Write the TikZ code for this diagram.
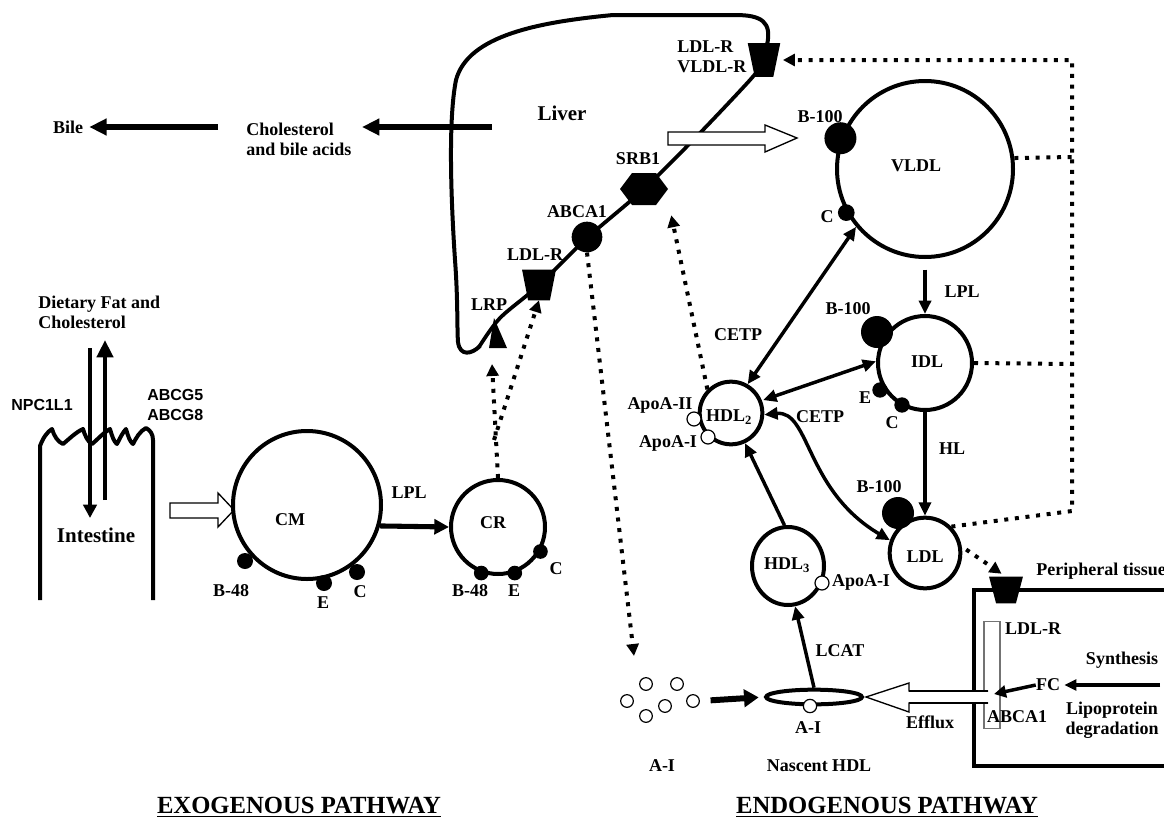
\documentclass[tikz,border=0pt]{standalone}
\usepackage{fontspec}
\setmainfont{Liberation Serif}
\newfontfamily\sansb{Liberation Sans}
\usetikzlibrary{arrows.meta,shapes.geometric,calc}
\begin{document}
\begin{tikzpicture}[x=0.75pt,y=-0.75pt,
  lbl/.style={font=\fontsize{13.5}{15}\selectfont\bfseries, inner sep=0pt},
  big/.style={font=\fontsize{15.75}{17}\selectfont\bfseries, inner sep=0pt},
  slbl/.style={font=\sansb\fontsize{12}{14.5}\selectfont\bfseries, inner sep=0pt},
  ttl/.style={font=\fontsize{18.5}{20}\selectfont\bfseries, inner sep=0pt},
  lipo/.style={draw, circle, line width=3pt, inner sep=0pt},
  blob/.style={fill, circle, inner sep=0pt, minimum size=12pt},
  bigblob/.style={fill, circle, inner sep=0pt, minimum size=24pt},
  apo/.style={draw, fill=white, circle, line width=0.9pt, inner sep=0pt, minimum size=10.5pt},
  hole/.style={inner sep=0pt},
  arr/.style={line width=2.6pt, -{Triangle[length=10pt,width=9pt]}},
  dbl/.style={line width=2.6pt, {Triangle[length=10pt,width=9pt]}-{Triangle[length=10pt,width=9pt]}},
  fat/.style={line width=4pt, -{Triangle[length=12pt,width=12pt]}},
  dots/.style={line width=3pt, dash pattern=on 3pt off 5pt},
  dotarr/.style={dots, -{Triangle[length=9pt,width=9pt]}},
  openarr/.style={draw, fill=white, line width=1pt, line join=miter}]
\useasboundingbox (0,0) rectangle (1164,832);

% ---------- Liver outline and membrane ----------
\draw[line width=3pt, line join=round] (767,45) .. controls (772,22) and (762,15) .. (735,15) -- (613,15)
  .. controls (540,22) and (468,35) .. (456,80) .. controls (448,120) and (451,200) .. (455,260)
  .. controls (458,300) and (457,330) .. (458,342) .. controls (460,357) and (472,354) .. (480,346);
\draw[line width=2.8pt] plot[smooth, tension=0.5] coordinates {(479,347) (500,318) (538,286) (587,238) (644,189) (700,133) (750,80) (764,62)};

% receptors on the liver
\node[hole, minimum width=24pt, minimum height=25pt] (rtop) at (764,60) {};
\fill (rtop.north west) -- (rtop.north east) -- ($(rtop.south east)+(-7,0)$) -- ($(rtop.south west)+(7,0)$) -- cycle;
\node[hole, minimum width=25pt, minimum height=22.5pt] (rldl) at (539,285) {};
\fill (rldl.north west) -- (rldl.north east) -- ($(rldl.south east)+(-6,0)$) -- ($(rldl.south west)+(6,0)$) -- cycle;
\node[hole, minimum width=36pt, minimum height=24pt] (srb) at (644,189) {};
\fill (620,189) -- (632,173) -- (656,173) -- (668,189) -- (656,205) -- (632,205) -- cycle;
\node[fill, circle, inner sep=0pt, minimum size=23pt] (abca) at (587,237) {};
\node[hole, minimum width=13pt, minimum height=22pt] (lrp) at (498,333) {};
\fill (494,318) -- (507,348) -- (489,348) -- cycle;

% liver labels
\node[big] (liver) at (562,113) {Liver};
\node[lbl, align=left, anchor=west] (rtoplbl) at (677,57) {LDL-R\\VLDL-R};
\node[lbl] (srblbl) at (638,159) {SRB1};
\node[lbl] (abcalbl) at (577,212) {ABCA1};
\node[lbl] (rldllbl) at (535,255) {LDL-R};
\node[lbl] (lrplbl) at (489,305) {LRP};

% bile
\node[lbl] (bile) at (68,127) {Bile};
\node[lbl, align=left, anchor=west] (chol) at (246,139) {Cholesterol\\and bile acids};
\coordinate (lvtick) at (492,127);
\coordinate (choltip) at (362,127);
\coordinate (cholstart) at (218,127);
\draw[fat, line width=3.8pt, -{Triangle[length=13pt,width=12pt]}] (lvtick) -- (choltip);
\draw[fat, line width=3.8pt, -{Triangle[length=13pt,width=12pt]}] (cholstart) -- ($(bile.east)+(6,0)$);

% open arrow liver -> VLDL
\draw[openarr] (668,132) -- (765,132) -- (765,125) -- (797,138) -- (765,152) -- (765,145) -- (668,145) -- cycle;

% ---------- Intestine ----------
\draw[line width=3pt, line join=round] (40,600) -- (40,446)
  .. controls (43,438) and (47,432) .. (52,429) .. controls (54,436) and (58,442) .. (63,444)
  .. controls (68,440) and (76,432) .. (83,429) .. controls (85,436) and (88,442) .. (92,444)
  .. controls (97,440) and (103,433) .. (110,429) .. controls (112,436) and (114,442) .. (117,444)
  .. controls (120,438) and (123,432) .. (126,429) .. controls (128,436) and (130,442) .. (133,444)
  .. controls (136,438) and (140,431) .. (146,428) .. controls (150,430) and (153,434) .. (153,440)
  -- (153,600);
\node[big] (intest) at (96,535) {Intestine};
\node[lbl, align=left, anchor=west] (diet) at (38,312) {Dietary Fat and\\Cholesterol};
\node[slbl] (npc) at (42,405) {NPC1L1};
\node[slbl, align=left, anchor=west] (abcg) at (147,405) {ABCG5\\ABCG8};
\coordinate (dn1) at (90,348); \coordinate (dn2) at (90,518);
\coordinate (up1) at (105,500); \coordinate (up2) at (105,340);
\draw[line width=3.2pt, -{Triangle[length=10pt,width=10pt]}] (dn1) -- (dn2);
\draw[line width=3.2pt, -{Triangle[length=13pt,width=12pt]}] (up1) -- (up2);
\draw[openarr] (170,503) -- (218,503) -- (218,493) -- (234,510) -- (218,527) -- (218,518) -- (170,518) -- cycle;

% ---------- CM and CR ----------
\node[lipo, minimum size=111pt] (cm) at (307,505) {};
\node[lbl] (cmlbl) at (290,520) {CM};
\node[blob] (cmb48) at (245,561) {};
\node[blob] (cme) at (324,583) {};
\node[blob] (cmc) at (357,572) {};
\node[lbl] (cmb48l) at (231,591) {B-48};
\node[lbl] (cmel) at (323,603) {E};
\node[lbl] (cmcl) at (360,592) {C};

\node[lipo, minimum size=70.5pt] (cr) at (498,527) {};
\node[lbl] (crlbl) at (493,523) {CR};
\node[blob, minimum size=11pt] (crb48) at (cr.250) {};
\node[blob, minimum size=11pt] (cre) at (cr.290) {};
\node[blob, minimum size=11pt] (crc) at (cr.330) {};
\node[lbl] (crb48l) at (470,591) {B-48};
\node[lbl] (crel) at (514,591) {E};
\node[lbl] (crcl) at (556,569) {C};

\node[lbl] (lpl1) at (409,493) {LPL};
\draw[fat, line width=3.8pt, -{Triangle[length=11pt,width=11pt]}] (cm.-16) -- (cr.west);

\coordinate (crsplit) at (494,440);
\draw[dotarr] (cr.north) -- (492,364);
\draw[dotarr] (crsplit) -- (rldl.south);

% ---------- VLDL / IDL / LDL ----------
\node[lipo, minimum size=132pt] (vldl) at (925,169) {};
\node[lbl] (vldllbl) at (916,166) {VLDL};
\node[bigblob] (vb100) at (vldl.160) {};
\node[blob, minimum size=12.5pt] (vc) at (vldl.209) {};
\node[lbl] (vb100l) at (820,117) {B-100};
\node[lbl] (vcl) at (827,217) {C};

\node[lipo, minimum size=70.5pt] (idl) at (925,363) {};
\node[lbl] (idllbl) at (927,362) {IDL};
\node[bigblob] (ib100) at (877,332) {};
\node[blob, minimum size=11.5pt] (ie) at (880,390) {};
\node[blob, minimum size=11.5pt] (ic) at (902,405) {};
\node[lbl] (ib100l) at (848,309) {B-100};
\node[lbl] (iel) at (865,398) {E};
\node[lbl] (icl) at (892,423) {C};

\node[lipo, minimum size=53pt] (ldl) at (925,553) {};
\node[lbl] (ldllbl) at (925,557) {LDL};
\node[bigblob] (lb100) at (898,513) {};
\node[lbl] (lb100l) at (879,487) {B-100};

\draw[arr, shorten <=8pt] (vldl.south) -- (idl.north);
\node[lbl] (lpl2) at (962,292) {LPL};
\draw[arr] (idl.south) -- (ldl.north);
\node[lbl] (hl) at (952,449) {HL};

% dotted return paths
\coordinate (dcb) at (1072,511);
\coordinate (dct) at (1072,60);
\coordinate (dcv) at (1072,157);
\coordinate (dci) at (1072,364);
\draw[dotarr, shorten >=2pt] (ldl.45) -- (dcb) -- (dct) -- (rtop.east);
\draw[dots] (vldl.7) -- (dcv);
\draw[dots] (idl.east) -- (dci);

% ---------- HDL ----------
\node[lipo, minimum size=47pt] (hdl2) at (731,413) {};
\node[lbl] (hdl2lbl) at (729,417) {HDL\textsubscript{2}};
\node[apo] (apo2) at (694,419) {};
\node[apo] (apo1) at (708,437) {};
\node[lbl] (apo2l) at (660,405) {ApoA-II};
\node[lbl] (apo1l) at (668,443) {ApoA-I};

\draw[dbl] (vldl.220) -- (hdl2.60);
\node[lbl] (cetp1) at (738,335) {CETP};
\draw[dbl, shorten <=1pt] (hdl2.22) -- (idl.178);
\draw[dbl] (hdl2.-3) .. controls (810,410) and (805,490) .. (ldl.160);
\node[lbl] (cetp2) at (820,417) {CETP};

\node[draw, ellipse, line width=3pt, inner sep=0pt, minimum width=54pt, minimum height=58.5pt] (hdl3) at (788,566) {};
\node[lbl] (hdl3lbl) at (787,565) {HDL\textsubscript{3}};
\node[apo] (apo3) at (822,583) {};
\node[lbl] (apo3l) at (861,582) {ApoA-I};
\draw[arr] (hdl3.95) -- (hdl2.-65);

\draw[dotarr] (hdl2.135) -- ($(srb.south east)+(3,10)$);
\coordinate (aitip) at (634,656);
\draw[dotarr] (abca.south) -- (aitip);

% nascent HDL
\node[draw, ellipse, line width=3pt, inner sep=0pt, minimum width=72pt, minimum height=11pt] (nasc) at (814,697) {};
\node[apo, minimum size=10pt] (nai) at (810,706) {};
\node[lbl] (nail) at (808,728) {A-I};
\node[lbl] (nascl) at (819,766) {Nascent HDL};
\draw[arr] (nasc.north) -- (hdl3.-80);
\node[lbl] (lcat) at (840,651) {LCAT};

% free apoA-I
\node[apo, minimum size=9.5pt] (ai1) at (627,701) {};
\node[apo, minimum size=9.5pt] (ai2) at (646,684) {};
\node[apo, minimum size=9.5pt] (ai3) at (677,684) {};
\node[apo, minimum size=9.5pt] (ai4) at (665,706) {};
\node[apo, minimum size=9.5pt] (ai5) at (693,701) {};
\node[apo, minimum size=9.5pt] (ai6) at (646,716) {};
\node[lbl] (ail) at (662,766) {A-I};
\draw[fat, line width=4.5pt, -{Triangle[length=11pt,width=13pt]}, shorten <=8pt, shorten >=4pt] (ai5.east) -- (nasc.west);

% ---------- Peripheral tissue ----------
\draw[line width=3pt] (1164,590) -- (974,590) -- (974,766) -- (1164,766);
\node[hole, minimum width=25pt, minimum height=19.5pt] (rper) at (1006,590) {};
\fill (rper.north west) -- (rper.north east) -- ($(rper.south east)+(-7,0)$) -- ($(rper.south west)+(7,0)$) -- cycle;
\node[lbl, anchor=west] (perl) at (1036,571) {Peripheral tissue};
\node[lbl] (rperl) at (1033,629) {LDL-R};
\draw[dotarr, shorten <=4pt, shorten >=4pt] (ldl.10) -- (rper.north);

\node[draw=black!55, fill=white, line width=0.9pt, inner sep=0pt, minimum width=12pt, minimum height=80pt] (abcr) at (992,675) {};
\draw[openarr] (988,691) -- (909,691) -- (909,683) -- (866,697) -- (909,712) -- (909,703) -- (988,703);
\draw[line width=2.2pt] (988,691) -- (909,691) (909,703) -- (988,703);
\node[lbl] (efflux) at (930,722) {Efflux};
\node[lbl] (abcrl) at (1017,717) {ABCA1};
\node[lbl] (fc) at (1048,685) {FC};
\coordinate (fctip) at (994,694);
\draw[line width=2.6pt, -{Triangle[length=9pt,width=9pt]}] (fc.west) -- (fctip);
\node[lbl] (syn) at (1122,660) {Synthesis};
\coordinate (synstart) at (1160,685);
\draw[line width=2.4pt, -{Triangle[length=9pt,width=8pt]}, shorten >=3pt] (synstart) -- (fc.east);
\node[lbl, align=center] (lipodeg) at (1112,720) {Lipoprotein\\degradation};

% ---------- titles ----------
\node[ttl] (exo) at (299,807) {\underline{EXOGENOUS PATHWAY}};
\node[ttl] (endo) at (887,807) {\underline{ENDOGENOUS PATHWAY}};
\end{tikzpicture}
\end{document}
